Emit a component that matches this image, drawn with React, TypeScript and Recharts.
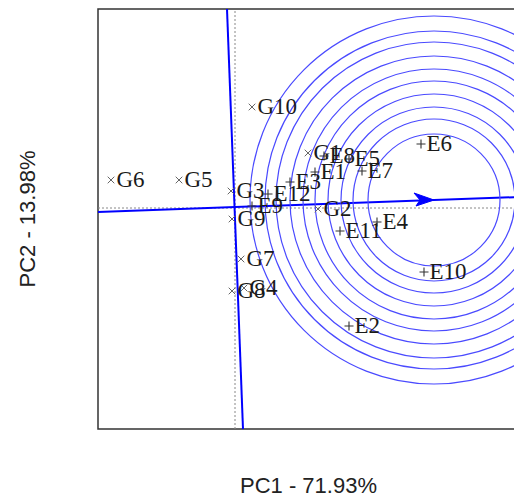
import React from 'react';
import {
  ScatterChart,
  Scatter,
  XAxis,
  YAxis,
  ReferenceLine,
  ReferenceDot,
  ReferenceArea,
} from 'recharts';

// ---- data (biplot scores) ----
const GENOTYPES = ['G1', 'G2', 'G3', 'G4', 'G5', 'G6', 'G7', 'G8', 'G9', 'G10'];
const GENO_PC1 = [0.73, 0.83, -0.04, 0.09, -0.56, -1.24, 0.06, -0.03, -0.03, 0.17];
const GENO_PC2 = [0.55, -0.01, 0.17, -0.8, 0.28, 0.28, -0.51, -0.83, -0.11, 1.01];

const ENVIRONMENTS = ['E1', 'E2', 'E3', 'E4', 'E5', 'E6', 'E7', 'E8', 'E9', 'E10', 'E11', 'E12'];
const ENV_PC1 = [0.8, 1.14, 0.55, 1.42, 1.14, 1.86, 1.27, 0.89, 0.17, 1.89, 1.05, 0.33];
const ENV_PC2 = [0.36, -1.18, 0.26, -0.14, 0.49, 0.64, 0.37, 0.52, 0.02, -0.64, -0.23, 0.14];

const IDEAL = { x: 1.99, y: 0.08 };
const CIRCLE_RADII = [0.66, 0.81, 0.93, 1.06, 1.19, 1.31, 1.44, 1.58, 1.69, 1.84];
const ATC_ABSCISSA = [
  { x: -1.37, y: -0.04 },
  { x: 2.84, y: 0.11 },
];
const ATC_ORDINATE = [
  { x: -0.08, y: 1.99 },
  { x: 0.08, y: -2.21 },
];
const X_DOMAIN: [number, number] = [-1.37, 2.84];
const Y_DOMAIN: [number, number] = [-2.21, 1.99];
const X_LABEL = 'PC1 - 71.93%';
const Y_LABEL = 'PC2 - 13.98%';

const genoData = GENOTYPES.map((name, i) => ({ name, x: GENO_PC1[i], y: GENO_PC2[i] }));
const envData = ENVIRONMENTS.map((name, i) => ({ name, x: ENV_PC1[i], y: ENV_PC2[i] }));

// ---- layout ----
const CHART_W = 520;
const CHART_H = 488;
const MARGIN = { top: 1, right: 9, bottom: 0, left: 0 };
const Y_AXIS_W = 90;
const X_AXIS_H = 67;
const PLOT_H = CHART_H - MARGIN.top - MARGIN.bottom - X_AXIS_H;
const PX_PER_UNIT = PLOT_H / (Y_DOMAIN[1] - Y_DOMAIN[0]);

const SERIF = '"Liberation Serif", "Times New Roman", serif';
const SANS = '"Liberation Sans", Arial, sans-serif';
const LABEL_SIZE = 23;

const GenoShape = (props: any) => {
  const { cx, cy, payload } = props;
  const s = 3.3;
  return (
    <g>
      <path
        d={`M${cx - s},${cy - s}L${cx + s},${cy + s}M${cx - s},${cy + s}L${cx + s},${cy - s}`}
        stroke="#666"
        strokeWidth={1}
        fill="none"
      />
      <text x={cx + 5.5} y={cy + 7} fontFamily={SERIF} fontSize={LABEL_SIZE} fill="#1a1a1a">
        {payload.name}
      </text>
    </g>
  );
};

const EnvShape = (props: any) => {
  const { cx, cy, payload } = props;
  const s = 4.5;
  return (
    <g>
      <path
        d={`M${cx - s},${cy}L${cx + s},${cy}M${cx},${cy - s}L${cx},${cy + s}`}
        stroke="#333"
        strokeWidth={1.1}
        fill="none"
      />
      <text x={cx + 5.5} y={cy + 7} fontFamily={SERIF} fontSize={LABEL_SIZE} fill="#1a1a1a">
        {payload.name}
      </text>
    </g>
  );
};

const ArrowHead = (props: any) => {
  const { cx, cy } = props;
  return (
    <path
      d={`M${cx},${cy}L${cx - 20},${cy - 7}L${cx - 14},${cy}L${cx - 18},${cy + 6}Z`}
      fill="#0000ff"
      stroke="#0000ff"
      strokeWidth={1}
    />
  );
};

export default function App() {
  return (
    <div
      style={{
        position: 'absolute',
        left: 8,
        top: 8,
        width: 506,
        height: CHART_H,
        overflow: 'hidden',
        background: '#fff',
      }}
    >
      <ScatterChart width={CHART_W} height={CHART_H} margin={MARGIN}>
        <XAxis
          type="number"
          dataKey="x"
          domain={X_DOMAIN}
          allowDataOverflow
          tick={false}
          tickLine={false}
          axisLine={false}
          height={X_AXIS_H}
          label={{
            value: X_LABEL,
            position: 'insideBottom',
            offset: 3,
            fontFamily: SANS,
            fontSize: 22,
            fill: '#222',
          }}
        />
        <YAxis
          type="number"
          dataKey="y"
          domain={Y_DOMAIN}
          allowDataOverflow
          tick={false}
          tickLine={false}
          axisLine={false}
          width={Y_AXIS_W}
          label={{
            value: Y_LABEL,
            angle: -90,
            position: 'insideLeft',
            offset: 19,
            fontFamily: SANS,
            fontSize: 22,
            fill: '#222',
            style: { textAnchor: 'middle' },
          }}
        />
        <ReferenceArea
          x1={X_DOMAIN[0]}
          x2={X_DOMAIN[1]}
          y1={Y_DOMAIN[0]}
          y2={Y_DOMAIN[1]}
          fill="none"
          fillOpacity={0}
          stroke="#333"
          strokeWidth={1.5}
          ifOverflow="visible"
        />
        <ReferenceLine x={0} stroke="#888" strokeDasharray="2 2" strokeWidth={1} />
        <ReferenceLine y={0} stroke="#888" strokeDasharray="2 2" strokeWidth={1} />
        {CIRCLE_RADII.map((r) => (
          <ReferenceDot
            key={r}
            x={IDEAL.x}
            y={IDEAL.y}
            r={r * PX_PER_UNIT}
            fill="none"
            fillOpacity={0}
            stroke="#4a4aff"
            strokeWidth={1.2}
            ifOverflow="visible"
          />
        ))}
        <ReferenceLine
          segment={ATC_ABSCISSA}
          stroke="#0000ff"
          strokeWidth={2}
          ifOverflow="visible"
        />
        <ReferenceLine
          segment={ATC_ORDINATE}
          stroke="#0000ff"
          strokeWidth={2}
          ifOverflow="visible"
        />
        <ReferenceDot x={IDEAL.x} y={IDEAL.y} r={1} shape={ArrowHead} ifOverflow="visible" />
        <Scatter data={genoData} shape={GenoShape} isAnimationActive={false} />
        <Scatter data={envData} shape={EnvShape} isAnimationActive={false} />
      </ScatterChart>
    </div>
  );
}
